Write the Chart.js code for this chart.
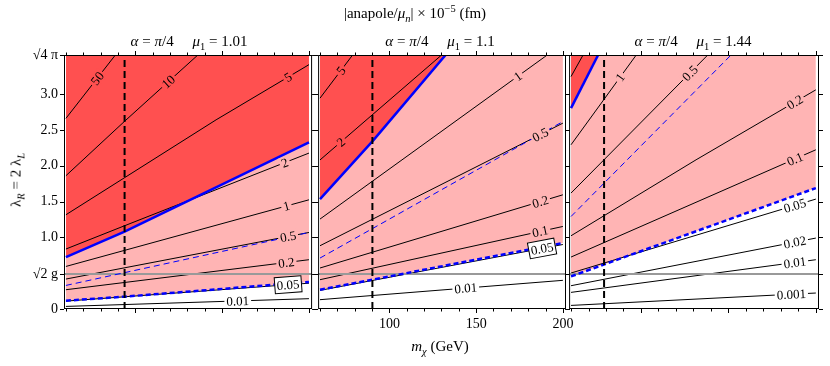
<!DOCTYPE html>
<html>
<head>
<meta charset="utf-8">
<script src="https://cdn.jsdelivr.net/npm/chart.js@4/dist/chart.umd.min.js"></script>
<style>
  body { margin: 0; background: #fff; }
  #wrap { position: relative; width: 830px; height: 366px; overflow: hidden;
          font-family: 'Liberation Serif', 'DejaVu Serif', 'Times New Roman', serif; color: #000; }
  canvas { position: absolute; top: 0; }
  .t { position: absolute; transform: translate(-50%, -50%); white-space: nowrap; font-size: 15px; }
  sub, sup { font-size: 70%; line-height: 0; }
</style>
</head>
<body>
<div id="wrap">
  <canvas id="c1" width="316" height="366" style="left:0px"></canvas>
  <canvas id="c2" width="270" height="366" style="left:313px"></canvas>
  <canvas id="c3" width="266" height="366" style="left:564px"></canvas>

  <div class="t" style="left:415px;top:13px">|anapole/<i>μ</i><sub><i>n</i></sub>| × 10<sup>−5</sup> (fm)</div>
  <div class="t" style="left:189px;top:41px"><i>α</i> = <i>π</i>/4&emsp;&nbsp;<i>μ</i><sub>1</sub> = 1.01</div>
  <div class="t" style="left:440px;top:41px"><i>α</i> = <i>π</i>/4&emsp;&nbsp;<i>μ</i><sub>1</sub> = 1.1</div>
  <div class="t" style="left:693px;top:41px"><i>α</i> = <i>π</i>/4&emsp;&nbsp;<i>μ</i><sub>1</sub> = 1.44</div>
  <div class="t" style="left:440px;top:346px"><i>m</i><sub><i>χ</i></sub> (GeV)</div>
  <div class="t" style="left:16px;top:180px;transform:translate(-50%,-50%) rotate(-90deg)">λ<sub><i>R</i></sub> = 2 λ<sub><i>L</i></sub></div>
</div>

<script>
// axes
const X_MIN = 58.9, X_MAX = 201.8;
const Y_MIN = 0, Y_MAX = Math.sqrt(4 * Math.PI);
const SQRT2G = 0.488;
const X_TICKS = [60, 70, 80, 90, 100, 110, 120, 130, 140, 150, 160, 170, 180, 190, 200];
const X_LABELED = [100, 150, 200];
const Y_TICKS = [0, SQRT2G, 1.0, 1.5, 2.0, 2.5, 3.0, Y_MAX];
const Y_TICK_LABELS = ['0', '√2 g', '1.0', '1.5', '2.0', '2.5', '3.0', '√4 π'];

// panel 1: mu1 = 1.01   (points are [m_chi, lambda_R])
const P1_LEVELS = ['50', '10', '5', '2', '1', '0.5', '0.2', '0.05', '0.01'];
const P1_LINES = [
  [[60, 2.66], [88.5, 3.545]],
  [[60, 1.86], [93.8, 2.62], [136, 3.545]],
  [[60, 1.315], [146.5, 2.64], [200, 3.41]],
  [[60, 0.837], [93.8, 1.162], [200, 2.176]],
  [[60, 0.594], [200, 1.524]],
  [[60, 0.418], [200, 1.068]],
  [[60, 0.269], [200, 0.688]],
  [[60, 0.11], [200, 0.36]],
  [[60, 0.036], [200, 0.144]]
];
const P1_LABEL_AT = [78, 119, 188, 186, 187, 188, 187, 188, 159];
const P1_SOLID = [[60, 0.725], [93.8, 1.08], [200, 2.324]];
const P1_DASHED = [[60, 0.116], [93.8, 0.172], [200, 0.377]];
const P1_THIN = [[60, 0.329], [200, 1.068]];
const P1_CUT = 93.8;

// panel 2: mu1 = 1.1
const P2_LEVELS = ['5', '2', '1', '0.5', '0.2', '0.1', '0.05', '0.01'];
const P2_LINES = [
  [[60, 2.943], [78.8, 3.545]],
  [[60, 2.08], [130.1, 3.545]],
  [[60, 1.255], [191, 3.545]],
  [[60, 0.883], [200, 2.594]],
  [[60, 0.572], [200, 1.594]],
  [[60, 0.409], [200, 1.152]],
  [[60, 0.26], [200, 0.90]],
  [[60, 0.13], [200, 0.40]]
];
const P2_LABEL_AT = [72, 72, 174, 187, 187, 187, 188, 144];
const P2_SOLID = [[60, 1.534], [90.7, 2.354], [132.4, 3.545]];
const P2_DASHED = [[60, 0.269], [200, 0.921]];
const P2_THIN = [[60, 0.711], [200, 2.616]];
const P2_CUT = 90.2;

// panel 3: mu1 = 1.44
const P3_LEVELS = ['2', '1', '0.5', '0.2', '0.1', '0.05', '0.02', '0.01', '0.001'];
const P3_LINES = [
  [[60, 3.244], [66.9, 3.545]],
  [[60, 2.292], [97.3, 3.545]],
  [[60, 1.618], [138.2, 3.545]],
  [[60, 1.022], [131.5, 2.082], [200, 3.059]],
  [[60, 0.725], [200, 2.222]],
  [[60, 0.502], [200, 1.534]],
  [[60, 0.325], [200, 0.99]],
  [[60, 0.232], [200, 0.688]],
  [[60, 0.05], [200, 0.223]]
];
const P3_LABEL_AT = [null, 88, 128, 188, 188, 188, 188, 188, 186];
const P3_SOLID = [[60, 2.803], [75.5, 3.545]];
const P3_DASHED = [[60, 0.455], [200, 1.688]];
const P3_THIN = [[60, 1.291], [151.5, 3.545]];
const P3_CUT = 78.9;

const SERIF = "'Liberation Serif', 'DejaVu Serif', 'Times New Roman', serif";
const BLUE = '#0000ff';
const DARK = 'rgb(255,80,80)';
const PINK = 'rgb(255,180,180)';

const PANELS = [
  { canvas: 'c1', levels: P1_LEVELS, lines: P1_LINES, labelAt: P1_LABEL_AT, solid: P1_SOLID,
    dashed: P1_DASHED, thin: P1_THIN, cut: P1_CUT, boxed: ['0.05'],
    pad: { left: 0, right: 3 }, yAxis: true, xLabels: false },
  { canvas: 'c2', levels: P2_LEVELS, lines: P2_LINES, labelAt: P2_LABEL_AT, solid: P2_SOLID,
    dashed: P2_DASHED, thin: P2_THIN, cut: P2_CUT, boxed: ['0.05'],
    pad: { left: 2, right: 17 }, yAxis: false, xLabels: true },
  { canvas: 'c3', levels: P3_LEVELS, lines: P3_LINES, labelAt: P3_LABEL_AT, solid: P3_SOLID,
    dashed: P3_DASHED, thin: P3_THIN, cut: P3_CUT, boxed: [],
    pad: { left: 3, right: 11 }, yAxis: false, xLabels: false }
];

function pts(list) {
  return list.map(([x, y]) => ({ x, y }));
}

// frame + outward ticks, Mathematica style
const framePlugin = {
  id: 'frame',
  afterDraw(chart) {
    const { ctx, chartArea: a, scales: { x, y } } = chart;
    ctx.save();
    ctx.strokeStyle = '#000';
    ctx.lineWidth = 1;
    ctx.strokeRect(a.left + 0.5, a.top + 0.5, a.right - a.left - 1, a.bottom - a.top - 1);
    ctx.beginPath();
    X_TICKS.forEach(v => {
      const px = Math.round(x.getPixelForValue(v)) + 0.5;
      const len = X_LABELED.includes(v) ? 4 : 2.5;
      ctx.moveTo(px, a.top); ctx.lineTo(px, a.top - len);
      ctx.moveTo(px, a.bottom); ctx.lineTo(px, a.bottom + len);
    });
    Y_TICKS.forEach(v => {
      const py = Math.round(y.getPixelForValue(v)) + 0.5;
      ctx.moveTo(a.left, py); ctx.lineTo(a.left - 4, py);
      ctx.moveTo(a.right, py); ctx.lineTo(a.right + 4, py);
    });
    ctx.stroke();
    ctx.restore();
  }
};

// contour labels sitting in a gap of their line
function labelPlugin(p) {
  return {
    id: 'contourLabels',
    afterDatasetsDraw(chart) {
      const { ctx, scales: { x, y } } = chart;
      const items = [];
      p.levels.forEach((txt, i) => {
        const m = p.labelAt[i];
        if (m == null) return;
        const line = p.lines[i];
        let k = 0;
        while (k < line.length - 2 && line[k + 1][0] < m) k++;
        const [m0, l0] = line[k], [m1, l1] = line[k + 1];
        const lam = l0 + (l1 - l0) * (m - m0) / (m1 - m0);
        const px = x.getPixelForValue(m), py = y.getPixelForValue(lam);
        const ang = Math.atan2(y.getPixelForValue(l1) - y.getPixelForValue(l0),
                               x.getPixelForValue(m1) - x.getPixelForValue(m0));
        const sx = Math.round(px - Math.sin(ang) * 9), sy = Math.round(py + Math.cos(ang) * 9);
        const d = ctx.getImageData(sx, sy, 1, 1).data;
        const al = d[3] / 255;
        const c = j => Math.round(d[j] * al + 255 * (1 - al));
        items.push({ txt, px, py, ang, bg: `rgb(${c(0)},${c(1)},${c(2)})`, boxed: p.boxed.includes(txt) });
      });
      ctx.save();
      ctx.font = '13px ' + SERIF;
      ctx.textAlign = 'center';
      ctx.textBaseline = 'middle';
      items.forEach(it => {
        ctx.save();
        ctx.translate(it.px, it.py);
        ctx.rotate(it.ang);
        const w = ctx.measureText(it.txt).width;
        if (it.boxed) {
          ctx.fillStyle = '#fff';
          ctx.fillRect(-w / 2 - 2, -8, w + 4, 16);
          ctx.strokeStyle = '#000';
          ctx.lineWidth = 1;
          ctx.strokeRect(-w / 2 - 2, -8, w + 4, 16);
        } else {
          ctx.fillStyle = it.bg;
          ctx.fillRect(-w / 2 - 2, -6, w + 4, 12);
        }
        ctx.fillStyle = '#000';
        ctx.fillText(it.txt, 0, 1);
        ctx.restore();
      });
      ctx.restore();
    }
  };
}

function makePanel(p) {
  const datasets = [
    { data: pts([[p.cut, Y_MIN], [p.cut, Y_MAX]]), borderColor: '#000', borderWidth: 2, borderDash: [7, 4] },
    { data: pts(p.solid), borderColor: BLUE, borderWidth: 2.5, fill: 'end', backgroundColor: DARK },
    { data: pts(p.dashed), borderColor: BLUE, borderWidth: 2.5, borderDash: [5, 3], fill: 'end', backgroundColor: PINK },
    { data: pts(p.thin), borderColor: BLUE, borderWidth: 1, borderDash: [6, 4] },
    { data: pts([[X_MIN, SQRT2G], [X_MAX, SQRT2G]]), borderColor: '#999', borderWidth: 2 }
  ];
  p.lines.forEach(l => datasets.push({ data: pts(l), borderColor: '#000', borderWidth: 1 }));

  new Chart(document.getElementById(p.canvas), {
    type: 'line',
    data: { datasets },
    options: {
      responsive: false,
      animation: false,
      devicePixelRatio: 1,
      events: [],
      layout: { padding: { top: 55, bottom: 0, left: p.pad.left, right: p.pad.right } },
      elements: { point: { radius: 0 }, line: { tension: 0, fill: false } },
      plugins: {
        legend: { display: false },
        tooltip: { enabled: false },
        filler: { drawTime: 'beforeDatasetsDraw' }
      },
      scales: {
        x: {
          type: 'linear', min: X_MIN, max: X_MAX,
          grid: { display: false, drawTicks: false },
          border: { display: false },
          afterBuildTicks: s => { s.ticks = X_TICKS.map(v => ({ value: v })); },
          afterFit: s => { s.height = 57; },
          ticks: {
            autoSkip: false, maxRotation: 0, padding: 7, color: '#000',
            font: { family: SERIF, size: 14 },
            callback: v => (p.xLabels && X_LABELED.includes(v)) ? String(v) : ''
          }
        },
        y: {
          type: 'linear', min: Y_MIN, max: Y_MAX, display: p.yAxis,
          grid: { display: false, drawTicks: false },
          border: { display: false },
          afterBuildTicks: s => { s.ticks = Y_TICKS.map(v => ({ value: v })); },
          afterFit: s => { s.width = p.yAxis ? 64 : 0; },
          ticks: {
            autoSkip: false, padding: 6, color: '#000',
            font: { family: SERIF, size: 14 },
            callback: (v, i) => Y_TICK_LABELS[i]
          }
        }
      }
    },
    plugins: [framePlugin, labelPlugin(p)]
  });
}

PANELS.forEach(makePanel);
</script>
</body>
</html>
